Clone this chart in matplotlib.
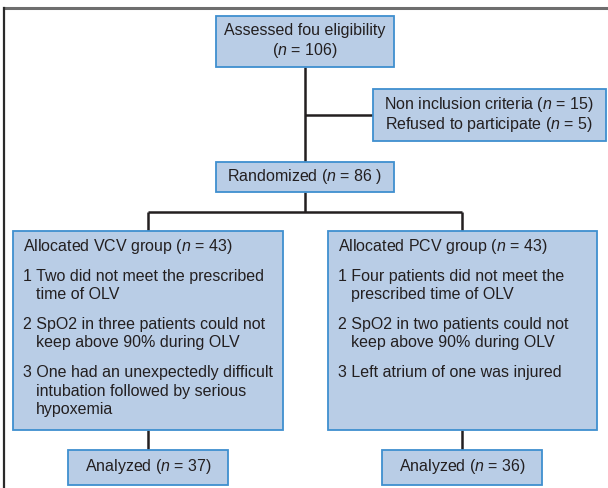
import matplotlib
matplotlib.use('Agg')
import matplotlib.pyplot as plt
from matplotlib.patches import Rectangle

plt.rcParams['font.family'] = ['Liberation Sans', 'DejaVu Sans']
plt.rcParams['mathtext.fontset'] = 'custom'
plt.rcParams['mathtext.it'] = 'Liberation Sans:italic'
plt.rcParams['mathtext.rm'] = 'Liberation Sans'

# flow chart content
n_assessed = 106
n_nonincl = 15
n_refused = 5
n_random = 86
n_vcv = 43
n_pcv = 43
n_vcv_analyzed = 37
n_pcv_analyzed = 36
vcv_items = [['1 Two did not meet the prescribed', 'time of OLV'],
             ['2 SpO2 in three patients could not', 'keep above 90% during OLV'],
             ['3 One had an unexpectedly difficult', 'intubation followed by serious', 'hypoxemia']]
pcv_items = [['1 Four patients did not meet the', 'prescribed time of OLV'],
             ['2 SpO2 in two patients could not', 'keep above 90% during OLV'],
             ['3 Left atrium of one was injured']]

FILL = '#b9cde6'
EDGE = '#3f8fcf'
TXT = '#231f20'
LINE = '#231f20'
FS = 11.5

def n(v):
    return r'($\it{n}$ = %s)' % v

fig = plt.figure(figsize=(6.08, 4.88), dpi=100)
ax = fig.add_axes([0, 0, 1, 1])
ax.set_xlim(0, 608)
ax.set_ylim(488, 0)
ax.axis('off')

def box(x0, y0, x1, y1):
    ax.add_patch(Rectangle((x0, y0), x1 - x0, y1 - y0, facecolor=FILL,
                           edgecolor=EDGE, lw=1.3, zorder=2))

def line(xs, ys):
    ax.plot(xs, ys, color=LINE, lw=1.8, zorder=1, solid_capstyle='butt')

# outer frame
ax.plot([3.5, 608], [7.5, 7.5], color='#6e6e6e', lw=2.2)
ax.plot([3.5, 3.5], [7.5, 488], color='#2a2a2a', lw=1.6)

# connectors
line([305, 305], [67, 162])
line([305, 373], [115, 115])
line([305, 305], [192, 212])
line([148, 462], [212, 212])
line([148, 148], [212, 231])
line([462, 462], [212, 231])
line([148, 148], [430, 450])
line([462, 462], [430, 450])

# top box
box(216, 16, 394, 67)
ax.text(305, 31, 'Assessed fou eligibility', ha='center', va='center', fontsize=FS, color=TXT)
ax.text(305, 51, n(n_assessed), ha='center', va='center', fontsize=FS, color=TXT)

# exclusion box
box(373, 89, 606, 141)
ax.text(489, 104, 'Non inclusion criteria ' + n(n_nonincl), ha='center', va='center', fontsize=FS, color=TXT)
ax.text(489, 125, 'Refused to participate ' + n(n_refused), ha='center', va='center', fontsize=FS, color=TXT)

# randomized
box(216, 162, 394, 192)
ax.text(305, 177, r'Randomized ($\it{n}$ = %d )' % n_random, ha='center', va='center', fontsize=FS, color=TXT)

# group boxes
def group(x0, x1, title, items):
    box(x0, 231, x1, 430)
    tx = x0 + 10
    ax.text(tx, 247, title, ha='left', va='center', fontsize=FS, color=TXT)
    y = 276
    for it in items:
        for k, s in enumerate(it):
            ax.text(tx if k == 0 else tx + 13, y, s, ha='left', va='center', fontsize=FS, color=TXT)
            y += 18.6
        y += 11
group(13, 283, 'Allocated VCV group ' + n(n_vcv), vcv_items)
group(328, 597, 'Allocated PCV group ' + n(n_pcv), pcv_items)

# analyzed
box(68, 450, 228, 485)
ax.text(148, 466, r'Analyzed ($\it{n}$ = %d)' % n_vcv_analyzed, ha='center', va='center', fontsize=FS, color=TXT)
box(382, 450, 542, 485)
ax.text(462, 466, r'Analyzed ($\it{n}$ = %d)' % n_pcv_analyzed, ha='center', va='center', fontsize=FS, color=TXT)

fig.savefig('out.png', dpi=100)
